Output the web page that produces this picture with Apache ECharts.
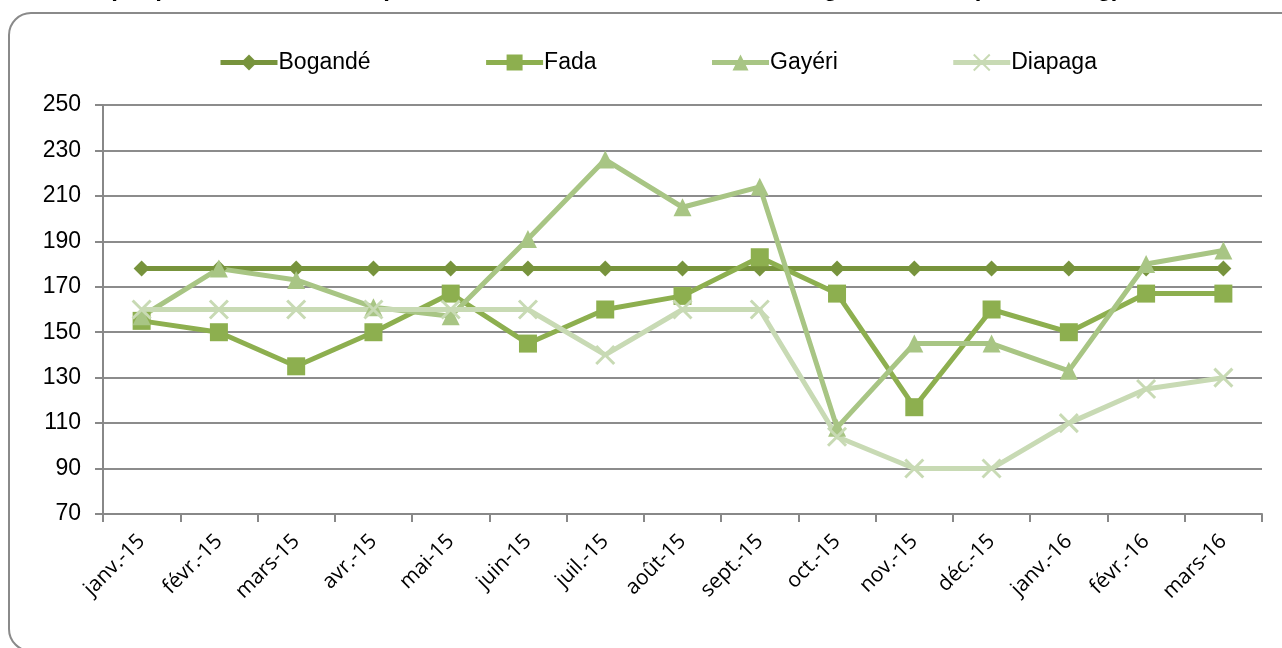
<!DOCTYPE html>
<html><head><meta charset="utf-8">
<script src="https://cdn.jsdelivr.net/npm/echarts@6/dist/echarts.min.js"></script>
<style>html,body{margin:0;padding:0;background:#fff}#c{width:1282px;height:648px}</style>
</head><body><div id="c"></div>
<script>
var categories = ['janv.-15','févr.-15','mars-15','avr.-15','mai-15','juin-15','juil.-15','août-15','sept.-15','oct.-15','nov.-15','déc.-15','janv.-16','févr.-16','mars-16'];
var bogande = [178,178,178,178,178,178,178,178,178,178,178,178,178,178,178];
var fada    = [155,150,135,150,167,145,160,166,183,167,117,160,150,167,167];
var gayeri  = [157,178,173,161,157,191,226,205,214,108,145,145,133,180,186];
var diapaga = [160,160,160,160,160,160,140,160,160,104,90,90,110,125,130];
var yTicks = {min:70, max:250, interval:20};
var titleText = "Graphique 4 : Evolution du prix du maïs dans les marchés de la région de l'Est (en FCFA/kg)";

var font = "'Liberation Sans Narrow','Liberation Sans',Arial,sans-serif";
var chart = echarts.init(document.getElementById('c'));
function mk(name, data, color, symbol, size){
  return {name:name, type:'line', data:data, symbol:symbol, symbolSize:size,
    lineStyle:{color:color,width:5}, itemStyle:{color:color, borderWidth:0}, color:color, z: 3};
}
var series = [
  mk('Bogandé', bogande, '#77933C', 'diamond', 16),
  mk('Fada', fada, '#8DAF4F', 'rect', 18),
  mk('Gayéri', gayeri, '#A8C584', 'triangle', 18),
  mk('Diapaga', diapaga, '#C8DAB4', 'path://M0,0L2,2M2,0L0,2', 18)
];
series[3].itemStyle = {color:'none', borderColor:'#C8DAB4', borderWidth:3};
chart.setOption({
  animation:false,
  graphic:[
    {type:'rect', shape:{x:9,y:13,width:1300,height:638,r:22}, style:{fill:'none', stroke:'#8a8a8a', lineWidth:2}, z:-1},
    {type:'text', left:70, top:-23, style:{text:titleText, font:"bold 24px 'Liberation Sans',Arial,sans-serif", fill:'#000'}}
  ],
  legend:{left:213, top:46, itemGap:113, itemWidth:57, itemHeight:20,
    lineStyle:{width:5},
    textStyle:{fontFamily:font, fontSize:23, color:'#000', padding:[0,0,0,-4]},
    data:['Bogandé','Fada','Gayéri','Diapaga']},
  grid:{left:103, right:20, top:105, bottom:134},
  xAxis:{type:'category', data:categories, boundaryGap:true,
    axisLine:{lineStyle:{color:'#888', width:2}},
    axisTick:{show:true, length:8, lineStyle:{color:'#888', width:2}, alignWithLabel:false},
    axisLabel:{rotate:45, fontFamily:"'Open Sans','Liberation Sans',sans-serif", fontSize:21, color:'#000', margin:24}},
  yAxis:{type:'value', min:yTicks.min, max:yTicks.max, interval:yTicks.interval,
    axisLine:{show:true, lineStyle:{color:'#888', width:2}},
    axisTick:{show:true, length:8, lineStyle:{color:'#888', width:2}},
    splitLine:{lineStyle:{color:'#8c8c8c', width:2}},
    axisLabel:{fontFamily:font, fontSize:23, color:'#000', margin:22}},
  series:series
});
</script></body></html>
